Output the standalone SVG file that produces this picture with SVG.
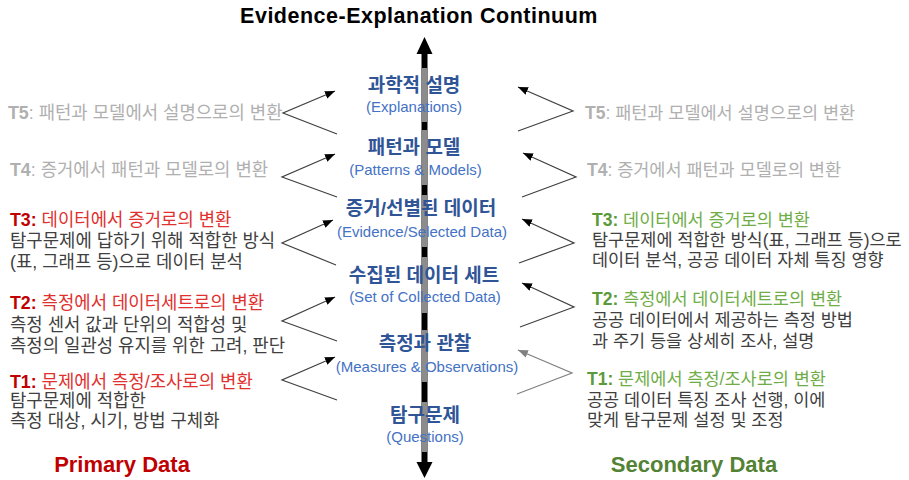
<svg xmlns="http://www.w3.org/2000/svg" width="909" height="480" viewBox="0 0 909 480">
<style>
text { font-family: "Liberation Sans", "Noto Sans CJK KR", sans-serif; }
.title { font-size: 21.5px; font-weight: bold; fill: #000; letter-spacing: 0.5px; }
.kt { font-size: 19px; font-weight: bold; fill: #2f5597; text-anchor: middle; }
.en { font-size: 15px; fill: #4472c4; text-anchor: middle; }
.side { font-size: 17.8px; }
.sider { font-size: 17.5px; }
.gray { fill: #b0b0b0; }
.red { fill: #e0312f; }
.redb { fill: #c00000; font-weight: bold; }
.green { fill: #70ad47; }
.greenb { fill: #5b9a3a; font-weight: bold; }
.body { fill: #404040; }
.b { font-weight: bold; }
.foot { font-size: 22px; font-weight: bold; text-anchor: middle; }
.chev { fill: none; stroke: #404040; stroke-width: 1.2; marker-end: url(#ah); }
.chevg { fill: none; stroke: #808080; stroke-width: 1.2; marker-end: url(#ahg); }
</style>
<defs>
<marker id="ah" markerUnits="userSpaceOnUse" markerWidth="10" markerHeight="8" refX="10" refY="4" orient="auto">
<path d="M0,0 L10,4 L0,8 z" fill="#000"/>
</marker>
<marker id="ahg" markerUnits="userSpaceOnUse" markerWidth="10" markerHeight="8" refX="10" refY="4" orient="auto">
<path d="M0,0 L10,4 L0,8 z" fill="#808080"/>
</marker>
</defs>
<rect width="909" height="480" fill="#fff"/>
<text class="title" x="419" y="23" text-anchor="middle">Evidence-Explanation Continuum</text>

<g id="axis">
<line x1="424.5" y1="50" x2="424.5" y2="466" stroke="#000" stroke-width="6"/>
<polygon points="424.5,37 416.5,54 432.5,54" fill="#000"/>
<polygon points="424.5,478 416.5,462 432.5,462" fill="#000"/>
<g fill="#8c8c8c">
<rect x="421.5" y="68" width="6" height="54"/>
<rect x="421.5" y="130" width="6" height="55"/>
<rect x="421.5" y="195" width="6" height="52"/>
<rect x="421.5" y="257" width="6" height="56"/>
<rect x="421.5" y="330" width="6" height="52"/>
<rect x="421.5" y="402" width="6" height="50"/>
</g>
</g>

<g id="connectors">
<polyline class="chev" points="337,134 283,113 335,91"/>
<polyline class="chev" points="337,197 282,177 335,154"/>
<polyline class="chev" points="336,265 282,243 333,220"/>
<polyline class="chev" points="337,341 282,321 335,297"/>
<polyline class="chev" points="337,400 282,380 335,357"/>
<polyline class="chev" points="518,131 573,111 518,87"/>
<polyline class="chev" points="522,197 576,177 523,153"/>
<polyline class="chev" points="519,263 574,243 522,219"/>
<polyline class="chev" points="520,327 574,307 522,283"/>
<polyline class="chevg" points="517,394 572,373 518,350"/>
</g>

<g id="n-explanations">
<text class="kt" x="414" y="92">과학적 설명</text>
<text class="en" x="414" y="112">(Explanations)</text>
</g>
<g id="n-patterns">
<text class="kt" x="414" y="154">패턴과 모델</text>
<text class="en" x="415.5" y="175">(Patterns &amp; Models)</text>
</g>
<g id="n-evidence">
<text class="kt" x="421" y="215">증거/선별된 데이터</text>
<text class="en" x="422" y="237">(Evidence/Selected Data)</text>
</g>
<g id="n-dataset">
<text class="kt" x="424" y="282">수집된 데이터 세트</text>
<text class="en" x="425" y="302">(Set of Collected Data)</text>
</g>
<g id="n-measures">
<text class="kt" x="425" y="350">측정과 관찰</text>
<text class="en" x="427" y="372">(Measures &amp; Observations)</text>
</g>
<g id="n-questions">
<text class="kt" x="425" y="422">탐구문제</text>
<text class="en" x="425" y="442">(Questions)</text>
</g>

<g id="left-t5">
<text class="side gray" x="8" y="119"><tspan class="b">T5</tspan>: 패턴과 모델에서 설명으로의 변환</text>
</g>
<g id="left-t4">
<text class="side gray" x="10" y="176"><tspan class="b">T4</tspan>: 증거에서 패턴과 모델로의 변환</text>
</g>
<g id="left-t3">
<text class="side" x="10" y="226"><tspan class="redb">T3:</tspan><tspan class="red"> 데이터에서 증거로의 변환</tspan></text>
<text class="side body" x="10" y="247">탐구문제에 답하기 위해 적합한 방식</text>
<text class="side body" x="10" y="268">(표, 그래프 등)으로 데이터 분석</text>
</g>
<g id="left-t2">
<text class="side" x="10" y="309"><tspan class="redb">T2:</tspan><tspan class="red"> 측정에서 데이터세트로의 변환</tspan></text>
<text class="side body" x="10" y="331">측정 센서 값과 단위의 적합성 및</text>
<text class="side body" x="10" y="352">측정의 일관성 유지를 위한 고려, 판단</text>
</g>
<g id="left-t1">
<text class="side" x="10" y="388"><tspan class="redb">T1:</tspan><tspan class="red"> 문제에서 측정/조사로의 변환</tspan></text>
<text class="side body" x="10" y="407">탐구문제에 적합한</text>
<text class="side body" x="10" y="427">측정 대상, 시기, 방법 구체화</text>
</g>

<g id="right-t5">
<text class="sider gray" x="585" y="119"><tspan class="b">T5</tspan>: 패턴과 모델에서 설명으로의 변환</text>
</g>
<g id="right-t4">
<text class="sider gray" x="587" y="176"><tspan class="b">T4</tspan>: 증거에서 패턴과 모델로의 변환</text>
</g>
<g id="right-t3">
<text class="sider" x="592" y="226"><tspan class="greenb">T3:</tspan><tspan class="green"> 데이터에서 증거로의 변환</tspan></text>
<text class="sider body" x="592" y="246">탐구문제에 적합한 방식(표, 그래프 등)으로</text>
<text class="sider body" x="592" y="266">데이터 분석, 공공 데이터 자체 특징 영향</text>
</g>
<g id="right-t2">
<text class="sider" x="592" y="305"><tspan class="greenb">T2:</tspan><tspan class="green"> 측정에서 데이터세트로의 변환</tspan></text>
<text class="sider body" x="592" y="326">공공 데이터에서 제공하는 측정 방법</text>
<text class="sider body" x="592" y="347">과 주기 등을 상세히 조사, 설명</text>
</g>
<g id="right-t1">
<text class="sider" x="587" y="385"><tspan class="greenb">T1:</tspan><tspan class="green"> 문제에서 측정/조사로의 변환</tspan></text>
<text class="sider body" x="587" y="406">공공 데이터 특징 조사 선행, 이에</text>
<text class="sider body" x="587" y="426">맞게 탐구문제 설정 및 조정</text>
</g>

<g id="primary">
<text class="foot" x="122" y="472" fill="#c00000">Primary Data</text>
</g>
<g id="secondary">
<text class="foot" x="694" y="472" fill="#548235">Secondary Data</text>
</g>
</svg>
